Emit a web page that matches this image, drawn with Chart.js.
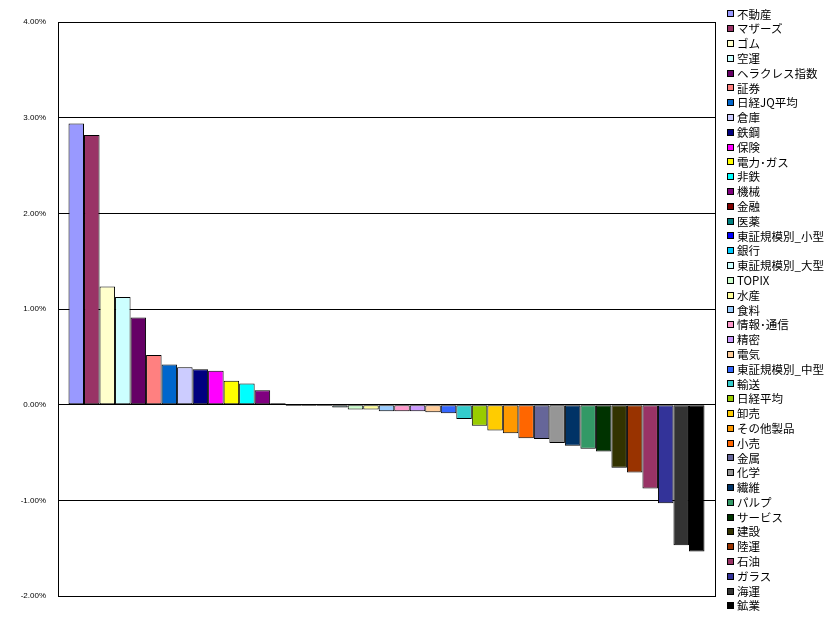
<!DOCTYPE html>
<html>
<head>
<meta charset="utf-8">
<script src="https://cdn.jsdelivr.net/npm/chart.js@4/dist/chart.umd.min.js"></script>
<style>
  body { margin: 0; background: #fff; }
  #wrap { position: relative; width: 837px; height: 625px; }
  #legend {
    position: absolute; left: 727px; top: 6.6px;
    font-family: "Noto Sans CJK JP", sans-serif; font-size: 11.5px; color: #000;
  }
  .item { height: 14.8px; line-height: 14.8px; white-space: nowrap; display: flex; align-items: center; }
  .box { width: 5px; height: 5px; border: 1px solid #000; margin-right: 3px; flex: none; }
</style>
</head>
<body>
<div id="wrap">
  <canvas id="sectorChart"></canvas>
  <div id="legend"></div>
</div>
<script>
// sector names, in legend order
const sectors = ['不動産', 'マザーズ', 'ゴム', '空運', 'ヘラクレス指数', '証券', '日経JQ平均', '倉庫', '鉄鋼', '保険',
  '電力･ガス', '非鉄', '機械', '金融', '医薬', '東証規模別_小型', '銀行', '東証規模別_大型', 'TOPIX', '水産',
  '食料', '情報･通信', '精密', '電気', '東証規模別_中型', '輸送', '日経平均', '卸売', 'その他製品', '小売',
  '金属', '化学', '繊維', 'パルプ', 'サービス', '建設', '陸運', '石油', 'ガラス', '海運', '鉱業'];

// change in percent
const changes = [2.94, 2.82, 1.235, 1.125, 0.91, 0.52, 0.42, 0.39, 0.37, 0.355,
  0.25, 0.22, 0.15, 0.015, -0.015, -0.015, -0.015, -0.03, -0.05, -0.05,
  -0.07, -0.07, -0.07, -0.08, -0.09, -0.15, -0.22, -0.27, -0.30, -0.35,
  -0.36, -0.40, -0.43, -0.46, -0.49, -0.66, -0.71, -0.875, -1.03, -1.47, -1.535];

const barColors = ['#9999FF', '#993366', '#FFFFCC', '#CCFFFF', '#660066', '#FF8080', '#0066CC', '#CCCCFF', '#000080', '#FF00FF',
  '#FFFF00', '#00FFFF', '#800080', '#800000', '#008080', '#0000FF', '#00CCFF', '#CCFFFF', '#CCFFCC', '#FFFF99',
  '#99CCFF', '#FF99CC', '#CC99FF', '#FFCC99', '#3366FF', '#33CCCC', '#99CC00', '#FFCC00', '#FF9900', '#FF6600',
  '#666699', '#969696', '#003366', '#339966', '#003300', '#333300', '#993300', '#993366', '#333399', '#333333', '#000000'];

const yTicks = { min: -2, max: 4, step: 1 };

// plot area frame (right side has no axis)
const frame = {
  id: 'frame',
  afterDraw(chart) {
    const a = chart.chartArea;
    const ctx = chart.ctx;
    ctx.save();
    ctx.strokeStyle = '#000';
    ctx.lineWidth = 1;
    ctx.strokeRect(Math.round(a.left) + 0.5, Math.round(a.top) + 0.5,
      Math.round(a.right - a.left), Math.round(a.bottom - a.top));
    ctx.restore();
  }
};

const datasets = sectors.map((name, i) => ({
  label: name,
  data: [changes[i]],
  backgroundColor: barColors[i],
  borderColor: '#000',
  borderWidth: 1,
  borderSkipped: false
}));

const ctx = document.getElementById('sectorChart').getContext('2d');
const chart = new Chart(ctx, {
  type: 'bar',
  data: { labels: [''], datasets: datasets },
  options: {
    responsive: true,
    maintainAspectRatio: false,
    animation: false,
    layout: { padding: { top: 22, bottom: 29, left: 0, right: 122 } },
    datasets: { bar: { barPercentage: 1, categoryPercentage: 0.968 } },
    plugins: { legend: { display: false }, tooltip: { enabled: false } },
    scales: {
      x: { display: false },
      y: {
        min: yTicks.min,
        max: yTicks.max,
        afterFit(scale) { scale.width = 58; },
        border: { display: true, color: '#000' },
        grid: { color: '#000', lineWidth: 1, drawTicks: false },
        ticks: {
          stepSize: yTicks.step,
          padding: 12,
          color: '#000',
          font: { family: 'Arial', size: 8 },
          callback: v => v.toFixed(2) + '%'
        }
      }
    }
  },
  plugins: [frame]
});

// legend built from the datasets
const legend = document.getElementById('legend');
chart.data.datasets.forEach(ds => {
  const row = document.createElement('div');
  row.className = 'item';
  const box = document.createElement('span');
  box.className = 'box';
  box.style.background = ds.backgroundColor;
  const text = document.createElement('span');
  text.textContent = ds.label;
  row.appendChild(box);
  row.appendChild(text);
  legend.appendChild(row);
});
</script>
</body>
</html>
